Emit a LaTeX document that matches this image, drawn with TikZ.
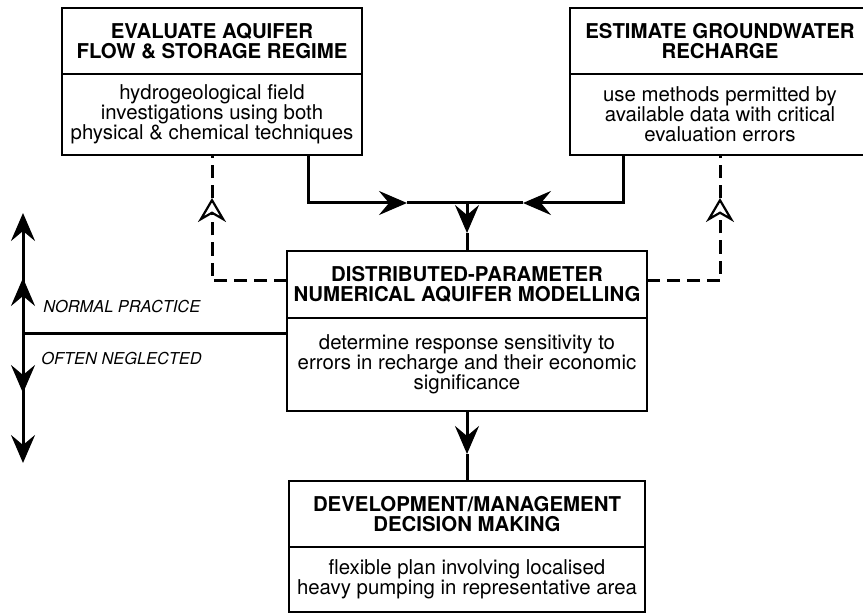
\documentclass[tikz,border=0pt]{standalone}
\usepackage{fontspec}
\setmainfont{TeX Gyre Heros}
\usetikzlibrary{positioning,arrows.meta,calc}
\tikzset{
  link/.style={line width=1.5pt,draw=black},
  flow/.style={-{Stealth[length=14pt,width=12pt,inset=5pt]},line width=1.5pt,draw=black},
  dashline/.style={line width=1.5pt,dash pattern=on 6.5pt off 3.5pt,draw=black},
  dashflow/.style={dashline,-{Stealth[open,length=12pt,width=14pt,inset=4pt,line width=1.1pt]}},
  headbox/.style={draw,line width=1.4pt,align=center,inner sep=0pt,outer sep=0pt,
    font=\fontsize{10.2}{10.2}\selectfont\bfseries},
  bodybox/.style={draw,line width=1.4pt,align=center,inner sep=0pt,outer sep=0pt,
    font=\fontsize{10.2}{10}\selectfont},
  note/.style={inner sep=0pt,font=\fontsize{8.2}{9}\selectfont\itshape}
}

\begin{document}
\begin{tikzpicture}[x=0.5pt,y=-0.5pt]
  \useasboundingbox (0,0) rectangle (863,615);

  % the two field tasks at the top
  \node[headbox,minimum width=150pt,minimum height=33pt,anchor=north] (evalhead) at (212,8)
    {EVALUATE AQUIFER\\FLOW \& STORAGE REGIME};
  \node[bodybox,minimum width=150pt,minimum height=40.5pt,below=0pt of evalhead] (evalbody)
    {hydrogeological field\\investigations using both\\physical \& chemical techniques};
  \node[headbox,minimum width=150pt,minimum height=33pt,anchor=north] (rechhead) at (720,8)
    {ESTIMATE GROUNDWATER\\RECHARGE};
  \node[bodybox,minimum width=150pt,minimum height=40.5pt,below=0pt of rechhead] (rechbody)
    {use methods permitted by\\available data with critical\\evaluation errors};

  % model and decision boxes
  \node[headbox,minimum width=180pt,minimum height=33.5pt,anchor=north] (modelhead) at (467,251)
    {DISTRIBUTED-PARAMETER\\NUMERICAL AQUIFER MODELLING};
  \node[bodybox,minimum width=180pt,minimum height=46.5pt,below=0pt of modelhead] (modelbody)
    {determine response sensitivity to\\errors in recharge and their economic\\significance};
  \node[headbox,minimum width=178pt,minimum height=33pt,below=35pt of modelbody] (dechead)
    {DEVELOPMENT/MANAGEMENT\\DECISION MAKING};
  \node[bodybox,minimum width=178pt,minimum height=32.5pt,below=0pt of dechead] (decbody)
    {flexible plan involving localised\\heavy pumping in representative area};

  % solid feeds into the model
  \coordinate (lefttip) at (407,203);
  \coordinate (righttip) at (523,203);
  \coordinate (join) at (modelhead.north |- lefttip);
  \coordinate (downtip) at ($(join)+(0,30)$);
  \draw[flow] ($(evalbody.south)+(96,0)$) |- (lefttip);
  \draw[link] (lefttip) -- (join);
  \draw[flow] ($(rechbody.south)+(-97,0)$) |- (righttip);
  \draw[link] (righttip) -- (join);
  \draw[flow] (join) -- (downtip);
  \draw[link] (downtip) -- (modelhead.north);

  % dashed feedback to the field tasks
  \coordinate (lup) at ($(evalbody.south)+(0,43)$);
  \coordinate (rup) at ($(rechbody.south)+(0,43)$);
  \draw[dashflow] ([yshift=2pt]modelhead.west) -| (lup);
  \draw[dashline] (lup) -- (evalbody.south);
  \draw[dashflow] ([yshift=2pt]modelhead.east) -| (rup);
  \draw[dashline] (rup) -- (rechbody.south);

  % model to decision
  \coordinate (lowtip) at ($(modelbody.south)+(0,43)$);
  \draw[flow] (modelbody.south) -- (lowtip);
  \draw[link] (lowtip) -- (dechead.north);

  % practice scale on the left
  \coordinate (split) at (23,333);
  \draw[link] (split) -- (split -| modelbody.west);
  \draw[flow] (split) -- (23,278);
  \draw[flow] (split) -- (23,213);
  \draw[flow] (split) -- (23,393);
  \draw[flow] (split) -- (23,463);
  \node[note,anchor=west] (normal) at (43,307) {NORMAL PRACTICE};
  \node[note,anchor=west] (neglect) at (41,359) {OFTEN NEGLECTED};
\end{tikzpicture}
\end{document}
